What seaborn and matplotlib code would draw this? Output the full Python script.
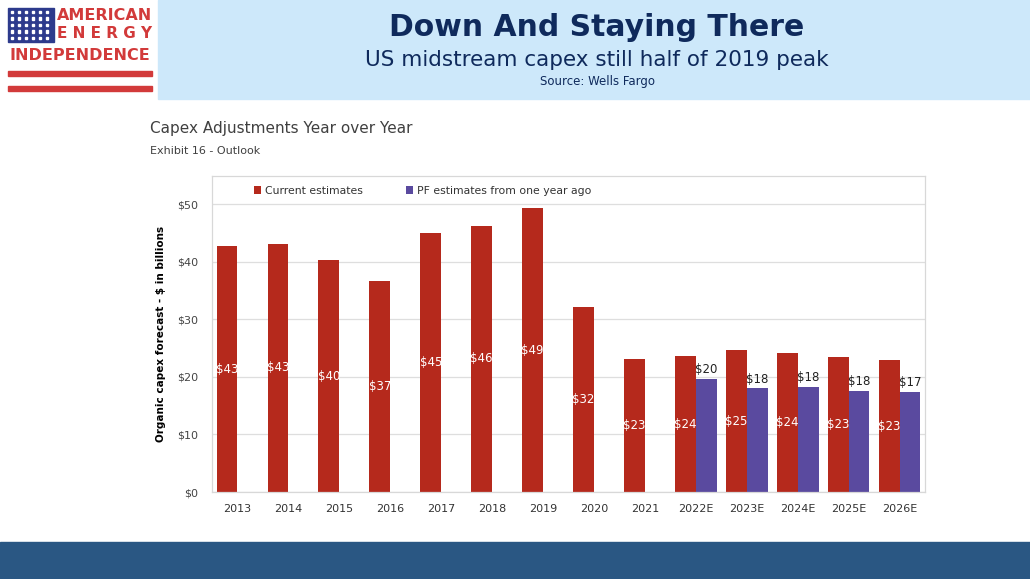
import numpy as np
import pandas as pd
import seaborn as sns
import matplotlib.pyplot as plt
from matplotlib.patches import Rectangle

# data ($ billions)
years = ["2013", "2014", "2015", "2016", "2017", "2018", "2019", "2020", "2021",
         "2022E", "2023E", "2024E", "2025E", "2026E"]
current = [42.7, 43.1, 40.3, 36.6, 45.0, 46.3, 49.3, 32.1, 23.1,
           23.6, 24.6, 24.1, 23.4, 22.9]
pf_years = ["2022E", "2023E", "2024E", "2025E", "2026E"]
pf_last_year = [19.7, 18.0, 18.3, 17.6, 17.4]
series = ["Current estimates", "PF estimates from one year ago"]
yticks = [0, 10, 20, 30, 40, 50]

red = "#b5291c"
purple = "#5a4a9f"

df = pd.concat([
    pd.DataFrame({"year": years, "capex": current, "series": series[0]}),
    pd.DataFrame({"year": pf_years, "capex": pf_last_year, "series": series[1]}),
])

sns.set_style("white")
plt.rcParams["font.family"] = ["DejaVu Sans"]

fig = plt.figure(figsize=(10.30, 5.79), dpi=100)

# header band + footer band
fig.patches.append(Rectangle((158 / 1030, 1 - 99 / 579), 872 / 1030, 99 / 579,
                             transform=fig.transFigure, color="#cde8fa", zorder=0))
fig.patches.append(Rectangle((0, 0), 1, 37 / 579, transform=fig.transFigure,
                             color="#2a5783", zorder=0))

# logo (rough)
fig.patches.append(Rectangle((8 / 1030, 1 - 42 / 579), 46 / 1030, 34 / 579,
                             transform=fig.transFigure, color="#2d3a8c", zorder=1))
for i in range(6):
    for j in range(5):
        fig.patches.append(Rectangle(((11 + i * 7) / 1030, 1 - (13 + j * 6.5) / 579),
                                     2.2 / 1030, 2.2 / 579, transform=fig.transFigure,
                                     color="white", zorder=2))
fig.text(152 / 1030, 1 - 15 / 579, "AMERICAN", ha="right", va="center",
         color="#d23a3a", fontsize=11.5, fontweight="bold")
fig.text(152 / 1030, 1 - 34 / 579, "E N E R G Y", ha="right", va="center",
         color="#d23a3a", fontsize=11, fontweight="bold")
fig.text(80 / 1030, 1 - 55 / 579, "INDEPENDENCE", ha="center", va="center",
         color="#d23a3a", fontsize=11.5, fontweight="bold")
for yy in (71, 86):
    fig.patches.append(Rectangle((8 / 1030, 1 - (yy + 5) / 579), 144 / 1030, 5 / 579,
                                 transform=fig.transFigure, color="#d23a3a", zorder=1))

# header titles
fig.text(597 / 1030, 1 - 27 / 579, "Down And Staying There", ha="center", va="center",
         color="#0f2a5c", fontsize=21.5, fontweight="bold")
fig.text(597 / 1030, 1 - 60 / 579, "US midstream capex still half of 2019 peak",
         ha="center", va="center", color="#0f2a5c", fontsize=15.5)
fig.text(597 / 1030, 1 - 81 / 579, "Source: Wells Fargo", ha="center", va="center",
         color="#0f2a5c", fontsize=8.5)

# chart titles
fig.text(150 / 1030, 1 - 129 / 579, "Capex Adjustments Year over Year", ha="left",
         va="center", color="#404040", fontsize=11)
fig.text(150 / 1030, 1 - 151 / 579, "Exhibit 16 - Outlook", ha="left", va="center",
         color="#404040", fontsize=8)

ax = fig.add_axes([212 / 1030, 1 - 492 / 579, 713 / 1030, 316 / 579])
sns.barplot(data=df, x="year", y="capex", hue="series", order=years,
            hue_order=series, palette=[red, purple], width=0.82, saturation=1,
            linewidth=0, ax=ax, legend=True)

ax.set_ylim(0, 54.9)
ax.set_xlim(-0.5, len(years) - 0.5)
ax.set_yticks(yticks)
ax.set_yticklabels([f"${v}" for v in yticks])
ax.set_xlabel("")
ax.set_ylabel("Organic capex forecast - $ in billions", fontsize=7.5,
              fontweight="bold", color="black", labelpad=8)
ax.yaxis.grid(True, color="#dedede", linewidth=0.9)
ax.set_axisbelow(True)
for s in ax.spines.values():
    s.set_color("#d8d8d8")
    s.set_linewidth(0.9)
ax.tick_params(axis="y", length=0, labelsize=8, colors="#444444", pad=10)
ax.tick_params(axis="x", length=0, labelsize=8, colors="#333333", pad=9)
ax.set_xticks(np.arange(-0.5, len(years), 1), minor=True)
ax.tick_params(axis="x", which="minor", length=4, color="#d8d8d8", direction="out")

# value labels
cur_bars = ax.containers[0]
ax.bar_label(cur_bars, labels=[f"${b.get_height():.0f}" for b in cur_bars],
             label_type="center", color="white", fontsize=8.5)
pf_bars = ax.containers[1]
pf_labels = ["" if np.isnan(b.get_height()) else f"${b.get_height():.0f}" for b in pf_bars]
ax.bar_label(pf_bars, labels=pf_labels, padding=2, color="#222222", fontsize=8.5)

leg = ax.legend(loc="upper left", bbox_to_anchor=(0.045, 1.0), ncol=2, frameon=False,
                fontsize=7.8, handlelength=0.7, handleheight=0.7, handletextpad=0.3,
                columnspacing=4.0, labelcolor="#333333")

fig.savefig("out.png", dpi=100)
